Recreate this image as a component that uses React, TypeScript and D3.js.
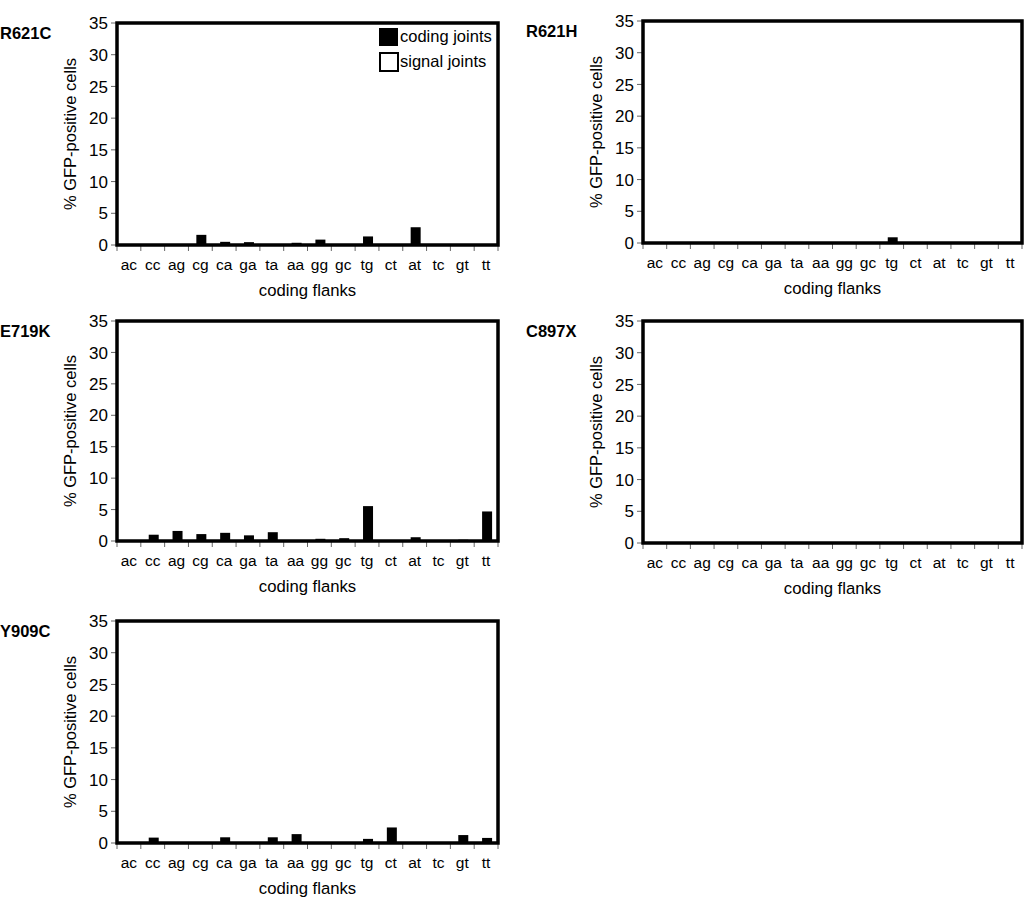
import React from "react";
import * as d3 from "d3";

const categories = ["ac","cc","ag","cg","ca","ga","ta","aa","gg","gc","tg","ct","at","tc","gt","tt"];
const yTicks = [0,5,10,15,20,25,30,35];

const r621c = [0,0,0,1.6,0.5,0.45,0,0.35,0.85,0,1.35,0,2.8,0,0,0];
const r621h = [0,0,0,0,0,0,0,0,0,0,0.9,0,0,0,0,0];
const e719k = [0,1.0,1.6,1.1,1.3,0.9,1.4,0,0.35,0.45,5.55,0,0.6,0,0.2,4.7];
const c897x = [0,0,0,0,0,0,0,0,0,0,0,0,0,0,0,0];
const y909c = [0,0.85,0,0,0.9,0,0.9,1.4,0,0,0.65,2.45,0,0,1.25,0.8];

const panels = [
  { name: "R621C", values: r621c, left: 117, top: 23, right: 498, bottom: 245, legend: true },
  { name: "R621H", values: r621h, left: 643, top: 21, right: 1022, bottom: 243, legend: false },
  { name: "E719K", values: e719k, left: 117, top: 321, right: 498, bottom: 541, legend: false },
  { name: "C897X", values: c897x, left: 643, top: 321, right: 1022, bottom: 543, legend: false },
  { name: "Y909C", values: y909c, left: 117, top: 621, right: 498, bottom: 843, legend: false },
];

const FONT = "'Liberation Sans', Arial, Helvetica, sans-serif";

function Panel({ p }: { p: typeof panels[number] }) {
  const x = d3.scaleBand<string>().domain(categories).range([p.left, p.right]).paddingInner(0.58).paddingOuter(0.29);
  const y = d3.scaleLinear().domain([0, 35]).range([p.bottom, p.top]);
  const step = x.step();
  const cx = (p.left + p.right) / 2;
  const cy = (p.top + p.bottom) / 2;
  return (
    <g>
      <text x={p.left - 117} y={p.top + 16} fontFamily={FONT} fontWeight="bold" fontSize={16.5}>{p.name}</text>
      {yTicks.map((t) => (
        <g key={t}>
          <line x1={p.left - 6} x2={p.left} y1={y(t)} y2={y(t)} stroke="#666" strokeWidth={1} />
          <text x={p.left - 9} y={y(t)} dy="0.36em" textAnchor="end" fontFamily={FONT} fontSize={17}>{t}</text>
        </g>
      ))}
      {d3.range(categories.length + 1).map((i) => (
        <line key={i} x1={p.left + i * step} x2={p.left + i * step} y1={p.bottom} y2={p.bottom + 6} stroke="#666" strokeWidth={1} />
      ))}
      {categories.map((c) => (
        <text key={c} x={(x(c) as number) + x.bandwidth() / 2} y={p.bottom + 25} textAnchor="middle" fontFamily={FONT} fontSize={15.5}>{c}</text>
      ))}
      {categories.map((c, i) => (
        p.values[i] > 0 ? (
          <rect key={c} x={(x(c) as number) + 1} width={x.bandwidth()} y={y(p.values[i])} height={y(0) - y(p.values[i])} fill="#000" />
        ) : null
      ))}
      <rect x={p.left} y={p.top} width={p.right - p.left} height={p.bottom - p.top} fill="none" stroke="#000" strokeWidth={3.5} />
      <text x={cx} y={p.bottom + 51} textAnchor="middle" fontFamily={FONT} fontSize={16.7}>coding flanks</text>
      <text transform={`translate(${p.left - 41},${cy}) rotate(-90)`} textAnchor="middle" fontFamily={FONT} fontSize={16.5}>% GFP-positive cells</text>
      {p.legend ? (
        <g>
          <rect x={379} y={28} width={19} height={18} fill="#000" />
          <text x={400} y={42} fontFamily={FONT} fontSize={16.5}>coding joints</text>
          <rect x={380} y={53} width={18} height={18} fill="#fff" stroke="#000" strokeWidth={2} />
          <text x={400} y={67} fontFamily={FONT} fontSize={16.5}>signal joints</text>
        </g>
      ) : null}
    </g>
  );
}

export default function App() {
  return (
    <svg width={1032} height={908} style={{ position: "absolute", left: 0, top: 0, background: "#fff" }}>
      <rect x={0} y={0} width={1032} height={908} fill="#fff" />
      {panels.map((p) => <Panel key={p.name} p={p} />)}
    </svg>
  );
}
